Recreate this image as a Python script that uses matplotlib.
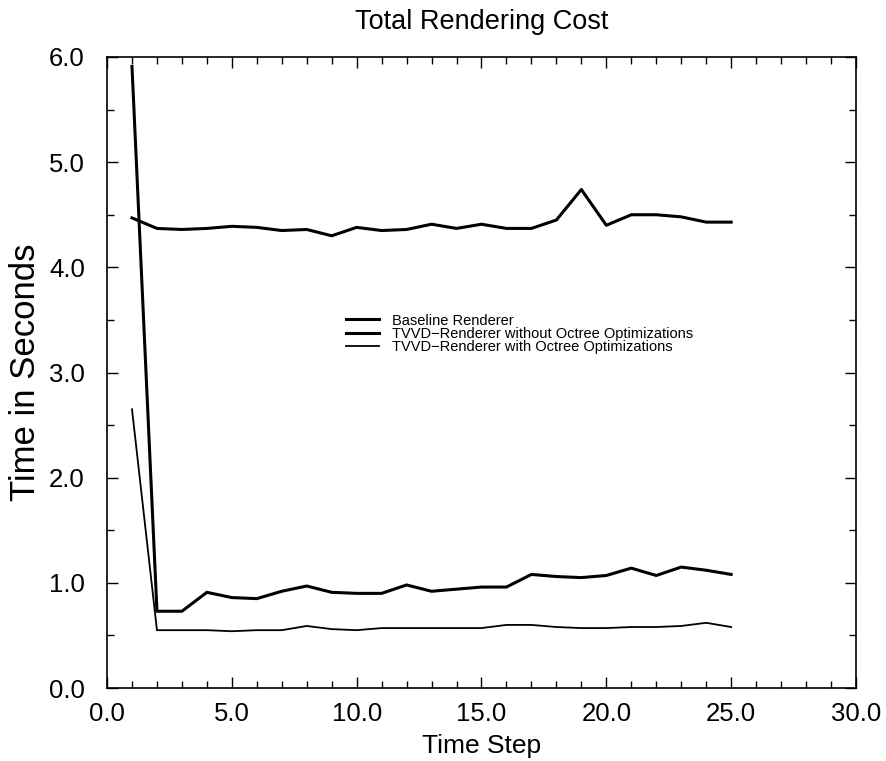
import matplotlib
matplotlib.use('Agg')
import matplotlib.pyplot as plt
from matplotlib.ticker import MultipleLocator, FormatStrFormatter

plt.rcParams['font.family'] = ['Liberation Sans', 'DejaVu Sans']

# data
steps = list(range(1, 26))
baseline = [4.47, 4.37, 4.36, 4.37, 4.39, 4.38, 4.35, 4.36, 4.30, 4.38,
            4.35, 4.36, 4.41, 4.37, 4.41, 4.37, 4.37, 4.45, 4.74, 4.40,
            4.50, 4.50, 4.48, 4.43, 4.43]
tvvd_no_octree = [5.91, 0.73, 0.73, 0.91, 0.86, 0.85, 0.92, 0.97, 0.91, 0.90,
                  0.90, 0.98, 0.92, 0.94, 0.96, 0.96, 1.08, 1.06, 1.05, 1.07,
                  1.14, 1.07, 1.15, 1.12, 1.08]
tvvd_octree = [2.65, 0.55, 0.55, 0.55, 0.54, 0.55, 0.55, 0.59, 0.56, 0.55,
               0.57, 0.57, 0.57, 0.57, 0.57, 0.60, 0.60, 0.58, 0.57, 0.57,
               0.58, 0.58, 0.59, 0.62, 0.58]

labels = ['Baseline Renderer',
          'TVVD\u2212Renderer without Octree Optimizations',
          'TVVD\u2212Renderer with Octree Optimizations']

fig = plt.figure(figsize=(8.86, 7.61), dpi=100)
ax = fig.add_axes([0.1208, 0.0959, 0.8453, 0.8292])

ax.plot(steps, baseline, color='black', lw=2.2, label=labels[0])
ax.plot(steps, tvvd_no_octree, color='black', lw=2.2, label=labels[1])
ax.plot(steps, tvvd_octree, color='black', lw=1.3, label=labels[2])

ax.set_xlim(0, 30)
ax.set_ylim(0, 6)
ax.xaxis.set_major_locator(MultipleLocator(5))
ax.xaxis.set_minor_locator(MultipleLocator(1))
ax.yaxis.set_major_locator(MultipleLocator(1))
ax.yaxis.set_minor_locator(MultipleLocator(0.5))
ax.xaxis.set_major_formatter(FormatStrFormatter('%.1f'))
ax.yaxis.set_major_formatter(FormatStrFormatter('%.1f'))

ax.tick_params(which='both', direction='in', top=True, right=True, width=1)
ax.tick_params(which='major', length=8)
ax.tick_params(which='minor', length=5)
ax.tick_params(axis='x', which='major', labelsize=18.5, pad=10)
ax.tick_params(axis='y', which='major', labelsize=18.5, pad=16)
for s in ax.spines.values():
    s.set_linewidth(1.2)

ax.set_title('Total Rendering Cost', fontsize=19.5, pad=20)
ax.set_xlabel('Time Step', fontsize=19, labelpad=6)
ax.set_ylabel('Time in Seconds', fontsize=25, labelpad=5)

ax.legend(loc='upper left', bbox_to_anchor=(0.39, 0.588), bbox_transform=fig.transFigure,
          frameon=False, fontsize=10.5, handlelength=2.3, handletextpad=0.9,
          labelspacing=-0.05, borderaxespad=0, borderpad=0)

fig.savefig('out.png', dpi=100)
